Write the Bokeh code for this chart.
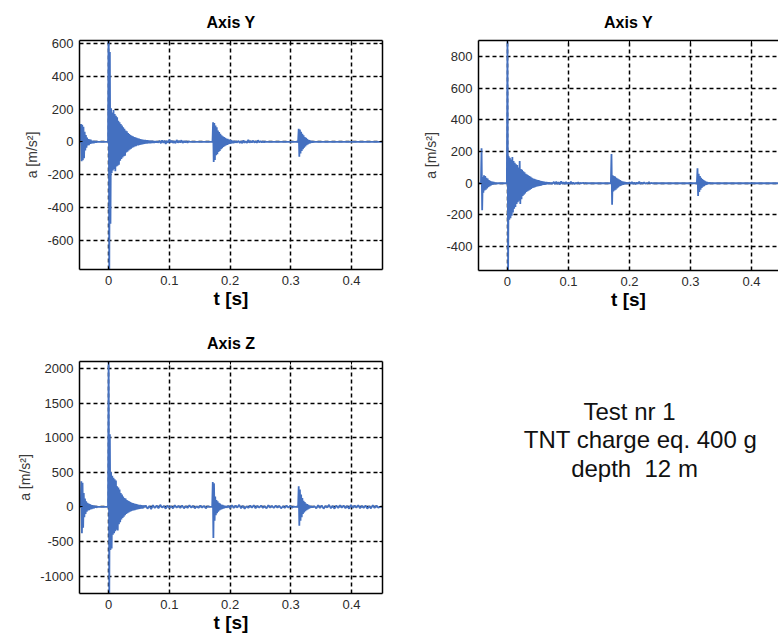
from bokeh.plotting import figure
from bokeh.models import Range1d, FixedTicker, LinearAxis, Label
from bokeh.layouts import column, row
from bokeh.embed import file_html
from bokeh.resources import INLINE

# ---------------- data ----------------
T_MIN, T_MAX = -0.048, 0.45          # record start / end [s], baseline 0
x_ticks = [0, 0.1, 0.2, 0.3, 0.4]
x_tick_labels = ["0", "0.1", "0.2", "0.3", "0.4"]

# Axis Y (left panel): segments = start time [s], sample step [s], samples [m/s^2]
y1_starts = [-0.0465, -0.0010, 0.0840, 0.1710, 0.2140, 0.3120]
y1_steps = [0.001, 0.001, 0.002, 0.001, 0.002, 0.001]
y1_pre = [0, 110, -118, 105, -112, 92, -100, 62, -52, 42, -36, 26, -22, 18, -20, 15, -12, 14, -10, 8, -9, 7, -8, 6, -5, 4, -3, 2, 0]
y1_main = [0, 900, -900, 550, -500, 205, -190, 180, -175, 195, -165, 170, -180, 160, -150, 150, -145, 130, -140, 120,
           -115, 110, -105, 100, -95, 90, -88, 80, -85, 70, -65, 65, -60, 55, -52, 48, -46, 42, -42, 38, -35, 35, -32, 30,
           -28, 28, -26, 25, -22, 22, -21, 20, -18, 18, -17, 16, -15, 14, -14, 13, -12, 12, -11, 11, -10, 10, -9, 9, -9,
           8, -8, 8, -7, 7, -7, 6, -6, 6, -5, 5, -5, 4, -4, 0]
y1_noise1 = [6, -8, 10, -6, 8, -12, 6, -5, 14, -4, 8, -6, 5, -8, 12, -5, 6, -4, 10, -6, 5, -3, 4, -5, 3, 0]
y1_b2 = [0, 120, -122, 115, -110, 100, -82, 90, -75, 70, -62, 60, -55, 50, -45, 40, -38, 35, -30, 30, -26, 25, -22, 20,
         -18, 18, -15, 14, -12, 12, -10, 10, -9, 8, -8, 7, -6, 6, -5, 5, -4, 0]
y1_noise2 = [5, -6, 4, -8, 10, -5, 4, -6, 12, -4, 5, -3, 8, -4, 3, -5, 10, -3, 4, -2, 3, -2, 2, 0]
y1_b3 = [0, 80, -90, 75, -70, 62, -55, 50, -45, 40, -35, 30, -28, 25, -20, 18, -15, 12, -10, 10, -8, 6, -5, 4, -3, 0]
y1_ticks = [-600, -400, -200, 0, 200, 400, 600]
y1_tick_labels = ["-600", "-400", "-200", "0", "200", "400", "600"]

# Axis Y (right panel)
y2_starts = [-0.0435, -0.0010, 0.0760, 0.1695, 0.2000, 0.3105]
y2_steps = [0.001, 0.001, 0.002, 0.001, 0.002, 0.001]
y2_pre = [0, 220, -170, 40, -60, 50, -45, 45, -40, 35, -32, 30, -25, 20, -20, 15, -15, 12, -10, 10, -8, 8, -6, 5, -5, 4, -3, 0]
y2_main = [0, 950, -600, 170, -230, 160, -220, 150, -205, 165, -185, 140, -160, 130, -150, 120, -130, 115, -120, 100,
           -110, 140, -130, 90, -100, 85, -80, 75, -72, 70, -65, 60, -55, 55, -50, 50, -46, 45, -40, 40, -36, 35, -30,
           30, -28, 28, -25, 25, -22, 22, -20, 20, -18, 18, -16, 15, -15, 14, -12, 12, -10, 10, -10, 9, -8, 8, -7, 7,
           -6, 6, -5, 5, -5, 4, -4, 0]
y2_noise1 = [8, -6, 10, -5, 6, -8, 12, -4, 6, -5, 8, -4, 5, -6, 10, -3, 4, -5, 3, -2, 6, -3, 2, 0, 3, -2, 2, 0]
y2_b2 = [0, 185, -135, 50, -52, 46, -45, 42, -40, 35, -32, 30, -26, 25, -20, 20, -16, 15, -12, 12, -10, 10, -8, 8, -6,
         6, -5, 5, -4, 0]
y2_noise2 = [6, -5, 8, -4, 5, -6, 4, -3, 10, -4, 3, -2, 6, -3, 2, -2, 8, -2, 2, 0]
y2_b3 = [0, 95, -80, 60, -55, 46, -40, 35, -30, 26, -22, 20, -18, 15, -12, 10, -9, 8, -6, 5, -4, 3, 0]
y2_ticks = [-400, -200, 0, 200, 400, 600, 800]
y2_tick_labels = ["-400", "-200", "0", "200", "400", "600", "800"]

# Axis Z
z_starts = [-0.0460, -0.0010, 0.0610, 0.1705, 0.1970, 0.3120, 0.3390]
z_steps = [0.001, 0.001, 0.003, 0.001, 0.003, 0.001, 0.003]
z_pre = [0, 370, -380, 350, -300, 200, -150, 120, -100, 80, -70, 60, -50, 50, -45, 40, -35, 30, -30, 25, -22, 20, -18,
         15, -12, 10, -8, 0]
z_main = [0, 2300, -1400, 1050, -620, 500, -600, 450, -400, 420, -380, 400, -350, 380, -330, 300, -340, 280, -250, 250,
          -220, 200, -180, 180, -160, 150, -140, 130, -120, 120, -100, 100, -90, 90, -80, 80, -70, 70, -60, 60, -55, 55,
          -50, 50, -45, 45, -40, 40, -35, 35, -30, 30, -28, 28, -25, 25, -22, 22, -20, 20, 0]
z_noise1 = [20, -25, 15, -30, 25, -15, 20, -20, 30, -10, 15, -25, 20, -15, 10, -20, 25, -10, 15, -15, 20, -20, 10, -15,
            25, -10, 15, -20, 10, -15, 20, -10, 15, -20, 10, 0]
z_b2 = [0, 360, -450, 340, -200, 150, -120, 100, -90, 80, -70, 60, -50, 50, -40, 35, -30, 30, -25, 20, -18, 15, -12, 10,
        -8, 0]
z_noise2 = [15, -20, 25, -15, 20, -10, 30, -20, 15, -25, 10, -15, 20, -10, 25, -20, 15, -10, 20, -15, 10, -20, 25, -10,
            15, -15, 20, -10, 15, -20, 10, -15, 20, -10, 15, -10, 5, 0]
z_b3 = [0, 300, -270, 250, -200, 180, -150, 130, -100, 90, -80, 70, -60, 50, -45, 40, -35, 30, -25, 20, -15, 12, -10, 8,
        -6, 0]
z_noise3 = [10, -20, 25, -15, 20, -25, 15, -10, 30, -20, 15, -25, 20, -15, 25, -10, 20, -20, 15, -25, 30, -15, 20, -10,
            25, -20, 15, -15, 20, -25, 10, -20, 25, -15, 20, -10, 0]
z_ticks = [-1000, -500, 0, 500, 1000, 1500, 2000]
z_tick_labels = ["-1000", "-500", "0", "500", "1000", "1500", "2000"]

info_lines = ["Test nr 1", "TNT charge eq. 400 g", "depth \u00a012 m"]


def series(starts, steps, segments):
    t, a = [T_MIN], [0.0]
    for s, d, seg in zip(starts, steps, segments):
        for i, v in enumerate(seg):
            t.append(s + i * d)
            a.append(v)
    t.append(T_MAX)
    a.append(0.0)
    return t, a


BLUE = "#4470C0"
FONT = "Liberation Sans"
TICK_C = "#2b2b2b"


def style_axis(ax, show_labels):
    ax.axis_line_color = "black"
    ax.axis_line_width = 1.5
    ax.major_tick_in = 3
    ax.major_tick_out = 0
    ax.minor_tick_in = 0
    ax.minor_tick_out = 0
    ax.major_tick_line_color = "black"
    ax.major_label_text_font = FONT
    ax.major_label_text_color = TICK_C
    if show_labels:
        ax.major_label_text_font_size = "13px"
    else:
        ax.major_label_text_font_size = "1px"
        ax.major_label_text_alpha = 0
        ax.major_label_standoff = 0


def panel(title, t, a, xr, yr, yticks, ylabels, fw, fh, left, right, top, bottom, right_box=True):
    p = figure(frame_width=fw, frame_height=fh, min_border_left=left, min_border_right=right,
               min_border_top=top, min_border_bottom=bottom, x_range=Range1d(*xr), y_range=Range1d(*yr),
               output_backend="svg", toolbar_location=None, tools="", title=title)
    p.title.text_font = FONT
    p.title.text_font_size = "16px"
    p.title.text_font_style = "bold"
    p.title.align = "center"
    p.title.text_color = "black"
    p.title.standoff = 19
    p.outline_line_color = None
    p.background_fill_color = "white"
    p.border_fill_color = "white"

    p.xaxis.ticker = FixedTicker(ticks=x_ticks)
    p.xaxis.major_label_overrides = dict(zip(x_ticks, x_tick_labels))
    p.yaxis.ticker = FixedTicker(ticks=yticks)
    p.yaxis.major_label_overrides = dict(zip(yticks, ylabels))
    for ax in p.xaxis + p.yaxis:
        style_axis(ax, True)
    p.xaxis.major_label_standoff = 6
    p.yaxis.major_label_standoff = 6
    p.xaxis.axis_label = "t [s]"
    p.xaxis.axis_label_text_font = FONT
    p.xaxis.axis_label_text_font_size = "19px"
    p.xaxis.axis_label_text_font_style = "bold"
    p.xaxis.axis_label_text_color = "black"
    p.xaxis.axis_label_standoff = 0
    p.yaxis.axis_label = "a [m/s²]"
    p.yaxis.axis_label_text_font = FONT
    p.yaxis.axis_label_text_font_size = "14px"
    p.yaxis.axis_label_text_font_style = "normal"
    p.yaxis.axis_label_text_color = "#3a3a3a"
    p.yaxis.axis_label_standoff = 4

    top_ax = LinearAxis(ticker=FixedTicker(ticks=x_ticks))
    style_axis(top_ax, False)
    p.add_layout(top_ax, "above")
    if right_box:
        right_ax = LinearAxis(ticker=FixedTicker(ticks=yticks))
        style_axis(right_ax, False)
        p.add_layout(right_ax, "right")

    p.xgrid.ticker = FixedTicker(ticks=x_ticks)
    p.ygrid.ticker = FixedTicker(ticks=yticks)
    p.grid.grid_line_color = "black"
    p.grid.grid_line_width = 1.5
    p.grid.grid_line_dash = "4 3"

    p.line(t, a, line_color=BLUE, line_width=1.8)
    return p


t1, a1 = series(y1_starts, y1_steps, [y1_pre, y1_main, y1_noise1, y1_b2, y1_noise2, y1_b3])
t2, a2 = series(y2_starts, y2_steps, [y2_pre, y2_main, y2_noise1, y2_b2, y2_noise2, y2_b3])
t3, a3 = series(z_starts, z_steps, [z_pre, z_main, z_noise1, z_b2, z_noise2, z_b3, z_noise3])

p1 = panel("Axis Y", t1, a1, (-0.048, 0.451), (-780, 620), y1_ticks, y1_tick_labels, 303, 229, 79, 36, 40, 42)
p2 = panel("Axis Y", t2, a2, (-0.0475, 0.4443), (-550, 900), y2_ticks, y2_tick_labels, 300, 230, 60, 0, 39, 42,
           right_box=False)
p3 = panel("Axis Z", t3, a3, (-0.048, 0.451), (-1250, 2100), z_ticks, z_tick_labels, 303, 232, 79, 36, 50, 44)

# text panel: x in page pixels, y in pixels above the panel's bottom edge
p4 = figure(frame_width=360, frame_height=326, min_border=0, x_range=Range1d(418, 778), y_range=Range1d(0, 326),
            output_backend="svg", toolbar_location=None, tools="", title=None,
            x_axis_type=None, y_axis_type=None)
p4.grid.visible = False
p4.outline_line_color = None
for txt, x, y in zip(info_lines, [629, 640, 634], [276, 248, 219]):
    p4.add_layout(Label(x=x, y=y, text=txt, text_font=FONT, text_font_size="24px", text_color="#111111",
                        text_align="center", text_baseline="alphabetic"))

layout = column(row(p1, p2), row(p3, p4))
open("out.html", "w").write(file_html(layout, INLINE))
